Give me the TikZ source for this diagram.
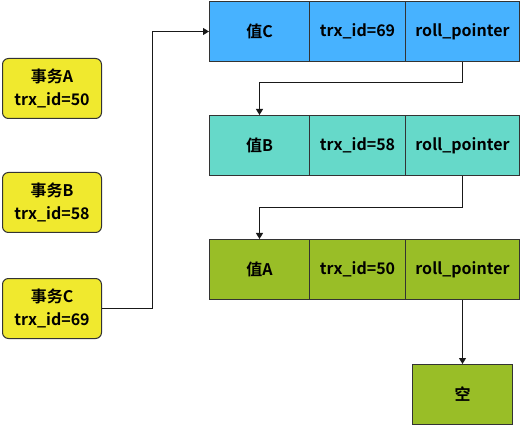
\documentclass[tikz,border=0pt]{standalone}
\usepackage{fontspec}
\setmainfont{Noto Sans CJK SC}[BoldFont={Noto Sans CJK SC Bold}]
\usetikzlibrary{arrows.meta,calc}
\definecolor{cblue}{HTML}{47B2FF}
\definecolor{cteal}{HTML}{66D9C9}
\definecolor{cgreen}{HTML}{99BE27}
\definecolor{cyel}{HTML}{F0E92E}
\definecolor{cline}{HTML}{333333}
\tikzset{
  every node/.style={font=\fontsize{16}{19}\selectfont\bfseries, text=black},
  cell/.style={draw=cline, line width=1pt, minimum height=60pt, inner sep=0pt, anchor=north west},
  trx/.style={draw=cline, line width=1pt, fill=cyel, rounded corners=6pt, minimum width=99pt, minimum height=60pt, inner sep=0pt, align=center, anchor=north west, font=\fontsize{16}{23}\selectfont\bfseries},
  arr/.style={draw=black!90, line width=1pt, -{Triangle[width=7pt,length=6pt]}}
}
\begin{document}
\begin{tikzpicture}[x=1pt,y=-1pt]
\useasboundingbox (0,0) rectangle (520,425);
% records
\node[cell, fill=cblue, minimum width=100pt] (cC1) at (209,1) {值C};
\node[cell, fill=cblue, minimum width=96pt] (cC2) at (309,1) {trx\_id=69};
\node[cell, fill=cblue, minimum width=114pt] (cC3) at (405,1) {roll\_pointer};
\node[cell, fill=cteal, minimum width=100pt] (cB1) at (209,115) {值B};
\node[cell, fill=cteal, minimum width=96pt] (cB2) at (309,115) {trx\_id=58};
\node[cell, fill=cteal, minimum width=114pt] (cB3) at (405,115) {roll\_pointer};
\node[cell, fill=cgreen, minimum width=100pt] (cA1) at (209,239) {值A};
\node[cell, fill=cgreen, minimum width=96pt] (cA2) at (309,239) {trx\_id=50};
\node[cell, fill=cgreen, minimum width=114pt] (cA3) at (405,239) {roll\_pointer};
\node[cell, fill=cgreen, minimum width=100pt] (empty) at (412,364) {空};
% transactions
\node[trx] (tA) at (2,58) {事务A\\trx\_id=50};
\node[trx] (tB) at (2,172) {事务B\\trx\_id=58};
\node[trx] (tC) at (2,278) {事务C\\trx\_id=69};
% connectors
\coordinate (j1) at (152,307);
\draw[arr] (tC.east) -- (tC.east -| j1) |- (cC1.west);
\draw[arr] (cC3.south) -- ++(0,21) -| (cB1.north);
\draw[arr] (cB3.south) -- ++(0,32) -| (cA1.north);
\draw[arr] (cA3.south) -- (empty.north);
\end{tikzpicture}
\end{document}
